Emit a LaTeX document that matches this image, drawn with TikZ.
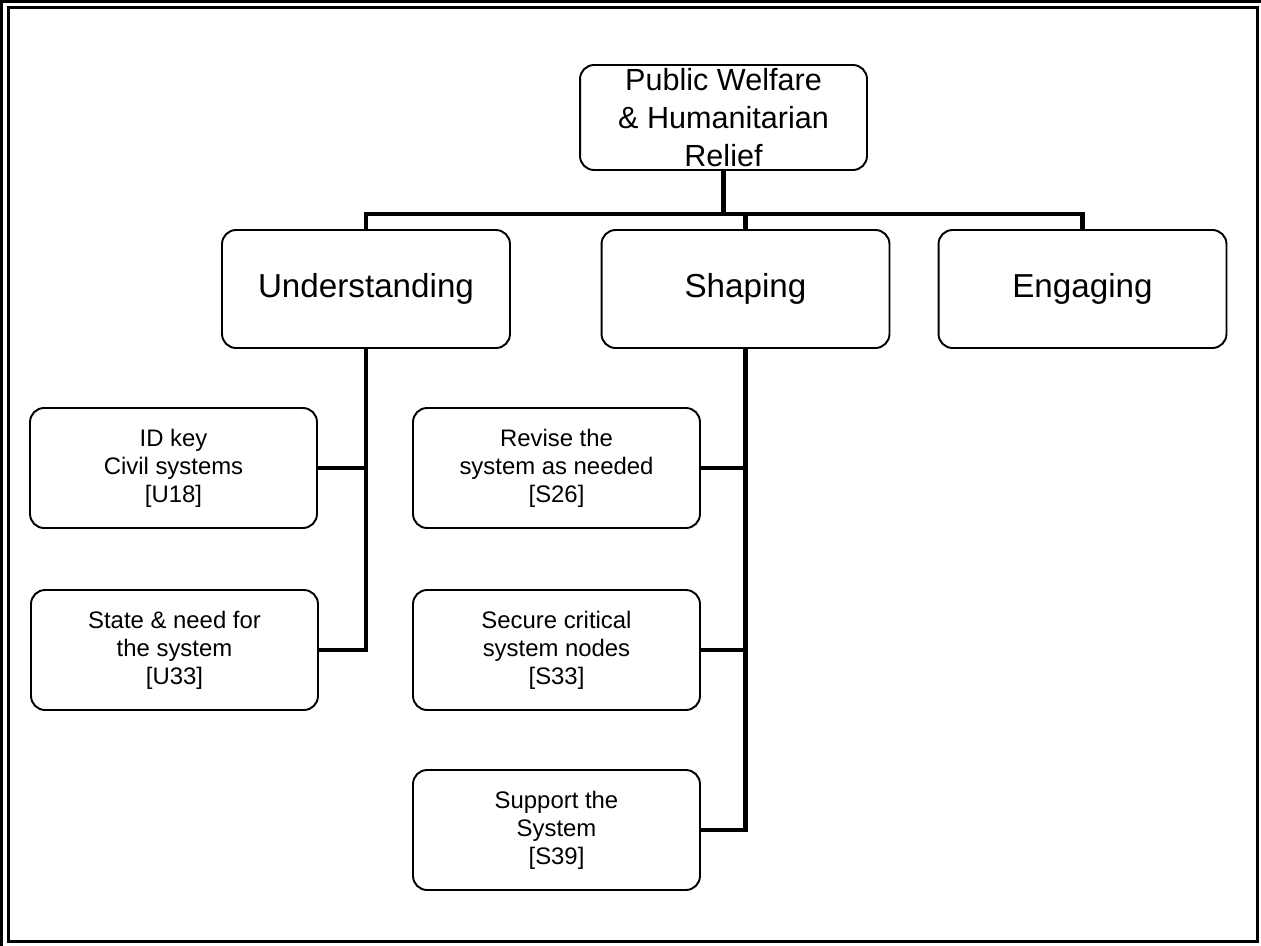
\documentclass[tikz,border=0pt]{standalone}
\usepackage{fontspec}
\setmainfont{Liberation Sans}
\usetikzlibrary{calc}

\tikzset{
	box/.style = {draw, line width=1.1pt, rounded corners=8pt, align=center, inner sep=0pt},
	topbox/.style = {box, minimum width=5.74cm, minimum height=2.1cm, font=\fontsize{17.4}{21.6}\selectfont},
	midbox/.style = {box, minimum width=5.76cm, minimum height=2.36cm, font=\fontsize{18.9}{22}\selectfont},
	subbox/.style = {box, minimum width=5.74cm, minimum height=2.4cm, font=\fontsize{13.6}{15.9}\selectfont},
	link/.style = {line width=2.3pt}
}

\begin{document}
\begin{tikzpicture}[x=0.02cm, y=-0.02cm]
			\useasboundingbox (0,0) rectangle (1261,946);
			% frame
			\draw [line width=1.7pt] (1.5,946) -- (1.5,1.5) -- (1261,1.5);
			\draw [line width=1.7pt] (8.5,7.5) rectangle (1257.5,941.5);

			\node [topbox] (top) at (723.5,117.5) {Public Welfare\\\& Humanitarian\\Relief};
			\node [midbox] (under) at (366,289) {Understanding};
			\node [midbox] (shap) at (745.5,289) {Shaping};
			\node [midbox] (eng) at (1082.5,289) {Engaging};

			\node [subbox] (u1) at (173.5,468) {ID key\\Civil systems\\{[U18]}};
			\node [subbox] (u2) at (174.5,650) {State \& need for\\the system\\{[U33]}};
			\node [subbox] (s1) at (556.5,468) {Revise the\\system as needed\\{[S26]}};
			\node [subbox] (s2) at (556.5,650) {Secure critical\\system nodes\\{[S33]}};
			\node [subbox] (s3) at (556.5,830) {Support the\\System\\{[S39]}};

			\coordinate (bar) at (723.5,214);
			\draw [link] (top.south) -- (bar);
			\draw [link] (under.north) |- (bar) -| (eng.north);
			\draw [link] (shap.north) -- (shap.north |- bar);

			\draw [link] (under.south) |- (u2.east);
			\draw [link] (u1.east) -- (under.south |- u1.east);

			\draw [link] (shap.south) |- (s3.east);
			\draw [link] (s1.east) -- (shap.south |- s1.east);
			\draw [link] (s2.east) -- (shap.south |- s2.east);
		\end{tikzpicture}
\end{document}
